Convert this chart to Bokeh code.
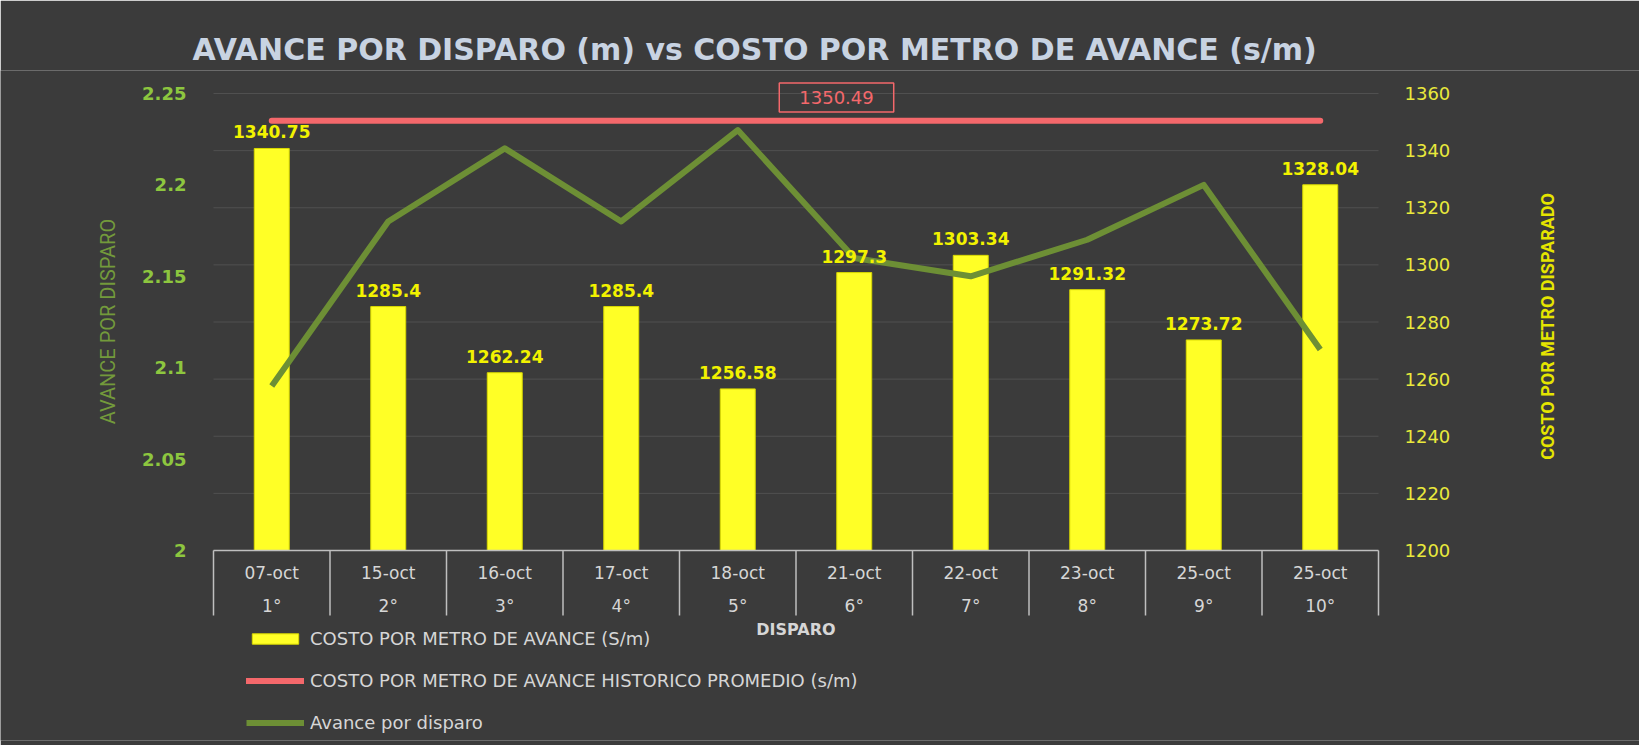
import math
from bokeh.plotting import figure
from bokeh.core.properties import value
from bokeh.models import (Range1d, LinearAxis, FixedTicker, NumeralTickFormatter,
                          ColumnDataSource, LabelSet, Label, Legend, LegendItem)
from bokeh.embed import file_html
from bokeh.resources import INLINE

# ---------------- data ----------------
fechas = ["07-oct", "15-oct", "16-oct", "17-oct", "18-oct", "21-oct", "22-oct", "23-oct", "25-oct", "25-oct"]
disparos = ["1°", "2°", "3°", "4°", "5°", "6°", "7°", "8°", "9°", "10°"]
costo = [1340.75, 1285.4, 1262.24, 1285.4, 1256.58, 1297.3, 1303.34, 1291.32, 1273.72, 1328.04]
costo_historico = 1350.49
avance = [2.09, 2.18, 2.22, 2.18, 2.23, 2.16, 2.15, 2.17, 2.20, 2.11]
costo_ticks = [1200, 1220, 1240, 1260, 1280, 1300, 1320, 1340, 1360]
avance_ticks = [2.0, 2.05, 2.1, 2.15, 2.2, 2.25]

titulo = "AVANCE POR DISPARO (m) vs COSTO POR METRO DE AVANCE (s/m)"
eje_x = "DISPARO"
eje_izq = "AVANCE POR DISPARO"
eje_der = "COSTO POR METRO DISPARADO"
leg_costo = "COSTO POR METRO DE AVANCE (S/m)"
leg_hist = "COSTO POR METRO DE AVANCE HISTORICO PROMEDIO (s/m)"
leg_avance = "Avance por disparo"

# ---------------- styling ----------------
BG = "#3b3b3b"
YELLOW = "#ffff26"
YLABEL = "#f2f200"
RED = "#f4686b"
GREEN_LINE = "#6d8f35"
GREEN_TICK = "#8dc63f"
GREEN_TITLE = "#739a3b"
GRAY_TXT = "#d6d6d6"
AXIS_GRAY = "#bfbfbf"
GRID = "#505050"
FONT = "DejaVu Sans"

n = len(fechas)
centros = [i + 0.5 for i in range(n)]          # category centres on a 0..n scale
etiquetas = {c: f + "\n" + d for c, f, d in zip(centros, fechas, disparos)}

W, H = 1639, 745
FL, FT, FR = 213, 93, 1378          # plot-area edges (picture pixels)
AXIS_Y = 550                        # category axis position
FRAME_T, FRAME_B = 70, 740          # drawing frame (kept large so every text fits in it)
c0, c1 = costo_ticks[0], costo_ticks[-1]
a0, a1 = avance_ticks[0], avance_ticks[-1]
px_y = (AXIS_Y - FT) / float(c1 - c0)
px_x = (FR - FL) / float(n)

def y_at(px):
    return c0 - (px - AXIS_Y) / px_y

def x_at(px):
    return (px - FL) / px_x

def to_avance(c):
    return a0 + (c - c0) * (a1 - a0) / float(c1 - c0)

src = ColumnDataSource(dict(
    x=centros,
    costo=costo,
    costo_txt=[str(v) for v in costo],
    hist=[costo_historico] * n,
    avance=avance,
))

p = figure(
    x_range=Range1d(x_at(0), x_at(W)),
    y_range=Range1d(y_at(FRAME_B), y_at(FRAME_T)),
    width=W, height=H,
    output_backend="svg", toolbar_location=None,
    y_axis_location="right",
    min_border_left=0, min_border_right=0, min_border_top=FRAME_T, min_border_bottom=H - FRAME_B,
    background_fill_color=BG, border_fill_color=BG,
)
p.outline_line_color = None
p.outline_line_alpha = 0
p.outline_line_width = 0
p.extra_y_ranges = {"avance": Range1d(to_avance(y_at(FRAME_B)), to_avance(y_at(FRAME_T)))}

# title
p.title.text = titulo
p.title.text_font = FONT
p.title.text_font_size = "30px"
p.title.text_font_style = "bold"
p.title.text_color = "#c8d3e2"
p.title.align = "left"
p.title.offset = 192
p.title.standoff = 7

# grid lines (only across the plot area)
p.xgrid.visible = False
p.ygrid.visible = False
p.segment(x0=[0] * len(costo_ticks), x1=[n] * len(costo_ticks), y0=costo_ticks, y1=costo_ticks,
          line_color=GRID, line_width=1)

# right axis (costo)
ra = p.right[0]
ra.fixed_location = n
ra.ticker = FixedTicker(ticks=costo_ticks)
ra.formatter = NumeralTickFormatter(format="0")
ra.major_label_standoff = 20
ra.major_tick_line_color = None
ra.minor_tick_line_color = None
ra.axis_line_color = None
ra.major_label_text_color = "#e9e93c"
ra.major_label_text_font = FONT
ra.major_label_text_font_size = "18px"

# left axis (avance)
la = LinearAxis(y_range_name="avance", ticker=FixedTicker(ticks=avance_ticks),
                formatter=NumeralTickFormatter(format="0.[00]"), fixed_location=0)
la.major_label_standoff = 21
la.major_tick_line_color = None
la.minor_tick_line_color = None
la.axis_line_color = None
la.major_label_text_color = GREEN_TICK
la.major_label_text_font = FONT
la.major_label_text_font_size = "18px"
la.major_label_text_font_style = "bold"
p.add_layout(la, "left")

# x axis (category labels: date over shot number)
xa = p.xaxis[0]
xa.fixed_location = c0
xa.bounds = (0, n)
xa.ticker = FixedTicker(ticks=centros)
xa.major_label_overrides = etiquetas
xa.major_tick_line_color = None
xa.minor_tick_line_color = None
xa.axis_line_color = AXIS_GRAY
xa.axis_line_width = 1.5
xa.major_label_standoff = 6
xa.major_label_text_font = FONT
xa.major_label_text_font_size = "17px"
xa.major_label_text_color = GRAY_TXT
xa.major_label_text_line_height = 1.65

# category boundary lines under the axis
drop = 65 / px_y
bx = list(range(n + 1))
p.segment(x0=bx, y0=[c0] * (n + 1), x1=bx, y1=[c0 - drop] * (n + 1),
          line_color=AXIS_GRAY, line_width=1.5)

# bars
bars = p.vbar(x="x", top="costo", bottom=c0, width=0.3, source=src,
              fill_color=YELLOW, line_color="#d8d800", line_width=1)

# historical average line
hline = p.line(x="x", y="hist", source=src, line_color=RED, line_width=6, line_cap="round")

# avance line
aline = p.line(x="x", y="avance", source=src, y_range_name="avance",
               line_color=GREEN_LINE, line_width=6, line_join="round")

# bar value labels
p.add_layout(LabelSet(x="x", y="costo", text="costo_txt", source=src,
                      text_align="center", text_baseline="bottom", y_offset=10,
                      text_font=value(FONT), text_font_size="17px", text_font_style="bold",
                      text_color=YLABEL))

# historical value label with box
p.add_layout(Label(x=x_at(836), y=y_at(97), text=str(costo_historico), text_align="center",
                   text_baseline="middle", text_font=FONT, text_font_size="18px",
                   text_color=RED, border_line_color=RED, border_line_width=1.5,
                   padding=(20, 8)))

# x axis title
p.add_layout(Label(x=n / 2.0, y=y_at(629), text=eje_x, text_align="center",
                   text_baseline="middle", text_font=FONT, text_font_size="16px",
                   text_font_style="bold", text_color=GRAY_TXT))

# left axis title
p.add_layout(Label(x=x_at(107), y=y_at(321), text=eje_izq, angle=math.pi / 2,
                   text_align="center", text_baseline="middle", text_font="Roboto",
                   text_font_size="20px", text_color=GREEN_TITLE))

# right axis title
p.add_layout(Label(x=x_at(1547), y=y_at(326), text=eje_der, angle=math.pi / 2,
                   text_align="center", text_baseline="middle", text_font="Roboto",
                   text_font_size="18px", text_font_style="bold", text_color="#e5e500"))

# legend
legend = Legend(items=[
    LegendItem(label=leg_costo, renderers=[bars]),
    LegendItem(label=leg_hist, renderers=[hline]),
    LegendItem(label=leg_avance, renderers=[aline]),
], location=(FL + 33, FRAME_B - 733), orientation="vertical",
    background_fill_alpha=0, border_line_color=None, padding=0, margin=0,
    glyph_width=58, glyph_height=13, label_standoff=6, spacing=21,
    label_text_font=FONT, label_text_font_size="18px", label_text_color=GRAY_TXT,
    label_height=20)
p.add_layout(legend)

open("out.html", "w").write(file_html(p, INLINE))
